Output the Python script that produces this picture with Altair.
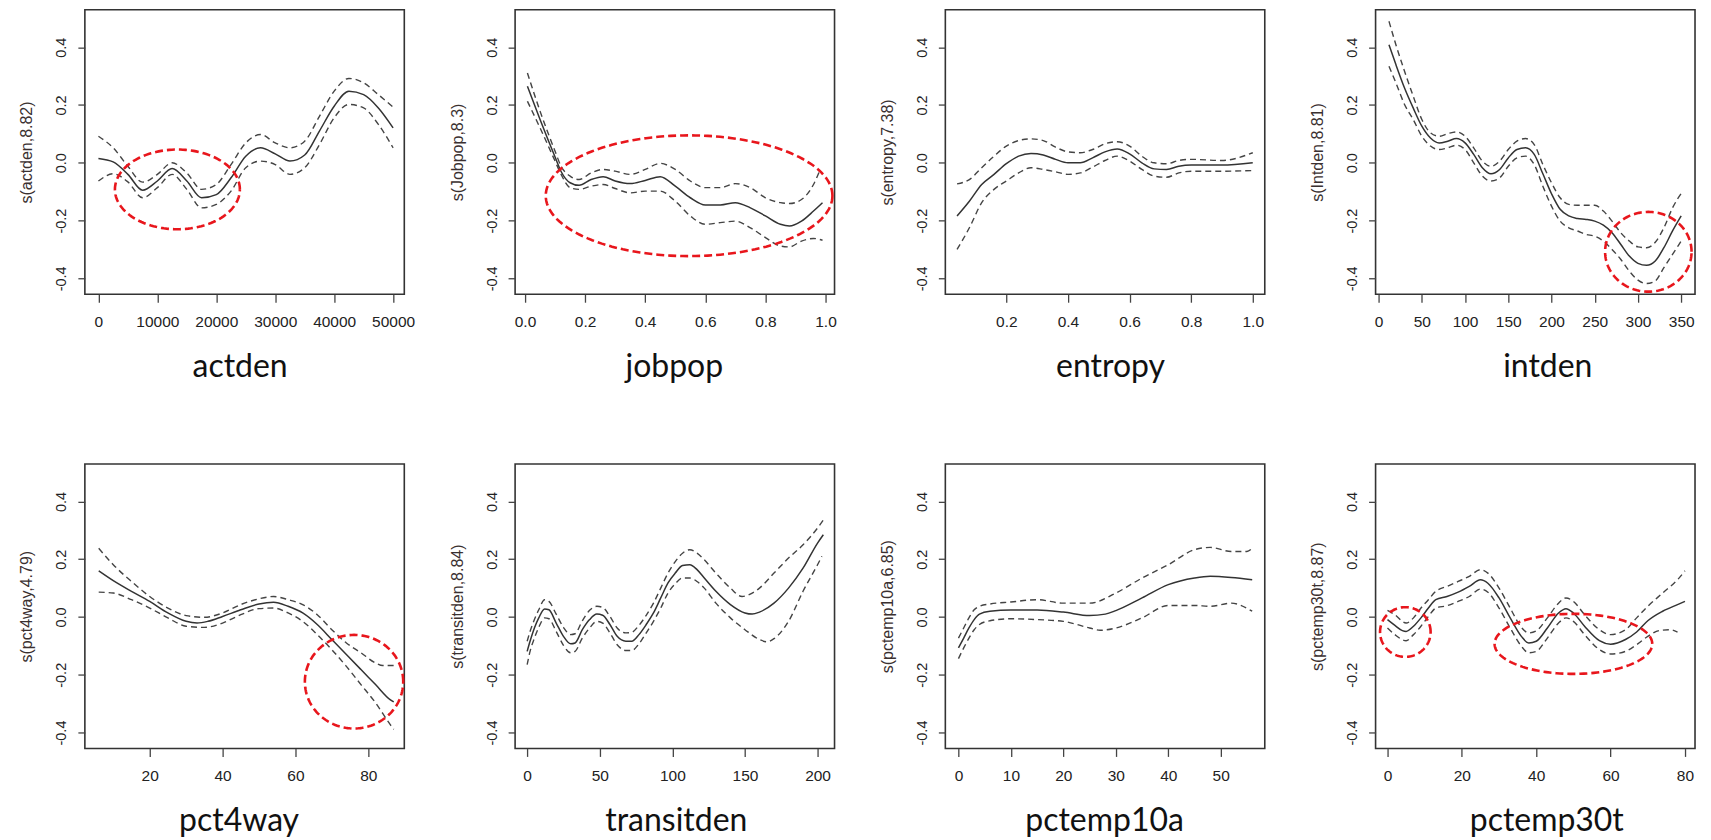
import altair as alt
import numpy as np
import pandas as pd

# ---------------- data ----------------
actden_x = [0, 2500, 5000, 7500, 10000, 12500, 15000, 17500, 20000, 22500, 25000,
            27500, 30000, 32500, 35000, 37500, 40000, 42500, 45000, 47500, 50000]
actden_fit = [0.015, 0.003, -0.040, -0.095, -0.063, -0.020, -0.063, -0.121, -0.110, -0.052, 0.023,
              0.052, 0.031, 0.006, 0.027, 0.110, 0.196, 0.248, 0.236, 0.190, 0.121]
actden_up = [0.092, 0.052, -0.012, -0.067, -0.040, 0.0, -0.035, -0.092, -0.075, -0.006, 0.069,
             0.098, 0.069, 0.052, 0.075, 0.161, 0.248, 0.292, 0.277, 0.236, 0.193]
actden_lo = [-0.063, -0.038, -0.066, -0.121, -0.086, -0.040, -0.092, -0.156, -0.144, -0.098, -0.017,
             0.006, -0.006, -0.040, -0.017, 0.063, 0.156, 0.202, 0.190, 0.133, 0.052]

jobpop_fit_x = [0.008, 0.05, 0.1, 0.12, 0.15, 0.18, 0.22, 0.26, 0.3, 0.35, 0.4, 0.45,
                0.5, 0.55, 0.6, 0.65, 0.7, 0.75, 0.8, 0.85, 0.88, 0.92, 0.96, 0.99]
jobpop_fit = [0.265, 0.150, 0.020, -0.030, -0.069, -0.078, -0.058, -0.048, -0.063, -0.072, -0.061, -0.048,
              -0.081, -0.121, -0.146, -0.146, -0.138, -0.156, -0.184, -0.213, -0.219, -0.202, -0.167, -0.138]
jobpop_up_x = [0.008, 0.05, 0.1, 0.12, 0.15, 0.18, 0.22, 0.26, 0.3, 0.35, 0.4, 0.45,
               0.5, 0.55, 0.6, 0.65, 0.7, 0.75, 0.8, 0.85, 0.88, 0.92, 0.96, 0.98]
jobpop_up = [0.311, 0.179, 0.040, -0.012, -0.046, -0.058, -0.035, -0.023, -0.029, -0.040, -0.023, -0.002,
             -0.023, -0.063, -0.086, -0.086, -0.072, -0.086, -0.121, -0.138, -0.141, -0.127, -0.075, -0.029]
jobpop_lo_x = jobpop_fit_x
jobpop_lo = [0.213, 0.121, 0.006, -0.040, -0.086, -0.092, -0.081, -0.075, -0.089, -0.104, -0.098, -0.098,
             -0.133, -0.184, -0.213, -0.207, -0.202, -0.225, -0.259, -0.288, -0.291, -0.271, -0.262, -0.268]

entropy_x = [0.04, 0.08, 0.12, 0.16, 0.2, 0.24, 0.28, 0.32, 0.36, 0.4, 0.44,
             0.48, 0.52, 0.56, 0.6, 0.64, 0.68, 0.72, 0.76, 0.8, 0.9, 1.0]
entropy_fit = [-0.184, -0.133, -0.075, -0.040, -0.003, 0.023, 0.032, 0.027, 0.012, 0.0, 0.0,
               0.017, 0.038, 0.048, 0.031, 0.0, -0.021, -0.023, -0.012, -0.008, -0.008, 0.0]
entropy_up = [-0.073, -0.058, -0.017, 0.023, 0.058, 0.077, 0.083, 0.077, 0.054, 0.038, 0.035,
              0.046, 0.066, 0.073, 0.058, 0.023, 0.0, -0.003, 0.008, 0.012, 0.008, 0.035]
entropy_lo = [-0.300, -0.225, -0.138, -0.092, -0.063, -0.035, -0.017, -0.023, -0.031, -0.040, -0.035,
              -0.015, 0.008, 0.023, 0.006, -0.023, -0.046, -0.050, -0.035, -0.029, -0.029, -0.027]

intden_fit_x = [12, 20, 30, 40, 50, 60, 70, 80, 90, 100, 110, 120, 130, 140, 150, 160, 170, 180,
                190, 200, 210, 220, 230, 240, 250, 260, 270, 280, 290, 300, 310, 320, 330, 340, 350]
intden_fit = [0.409, 0.340, 0.259, 0.190, 0.127, 0.086, 0.069, 0.075, 0.084, 0.069, 0.029, -0.017,
              -0.038, -0.023, 0.017, 0.046, 0.052, 0.029, -0.038, -0.107, -0.161, -0.184, -0.193,
              -0.196, -0.202, -0.216, -0.242, -0.282, -0.323, -0.348, -0.355, -0.340, -0.294, -0.236, -0.184]
intden_up_x = [12, 20, 30, 40, 50, 60, 70, 80, 90, 100, 110, 120, 130, 140, 150, 160, 170, 180,
               190, 200, 210, 220, 230, 240, 250, 260, 270, 280, 290, 300, 310, 320, 330, 340, 352]
intden_up = [0.490, 0.409, 0.317, 0.231, 0.150, 0.104, 0.092, 0.101, 0.107, 0.092, 0.052, 0.006,
             -0.012, 0.006, 0.046, 0.075, 0.084, 0.063, -0.006, -0.069, -0.121, -0.144, -0.147,
             -0.147, -0.147, -0.167, -0.202, -0.242, -0.271, -0.291, -0.294, -0.275, -0.225, -0.156, -0.098]
intden_lo_x = intden_fit_x
intden_lo = [0.334, 0.277, 0.202, 0.150, 0.092, 0.058, 0.046, 0.052, 0.061, 0.046, 0.0, -0.046,
             -0.063, -0.052, -0.012, 0.017, 0.023, -0.006, -0.081, -0.150, -0.202, -0.225, -0.236,
             -0.248, -0.254, -0.271, -0.300, -0.334, -0.375, -0.406, -0.418, -0.409, -0.363, -0.317, -0.271]

pct4way_fit_x = [6, 10, 15, 20, 25, 30, 33, 36, 40, 45, 50, 54, 58, 62, 66, 70, 74, 78, 82, 86, 87]
pct4way_fit = [0.160, 0.126, 0.089, 0.054, 0.014, -0.015, -0.021, -0.015, 0.002, 0.025, 0.045,
               0.051, 0.037, 0.014, -0.026, -0.078, -0.130, -0.182, -0.234, -0.286, -0.294]
pct4way_up_x = [6, 10, 15, 20, 25, 30, 35, 40, 45, 50, 54, 58, 62, 66, 70, 74, 78, 82, 84, 87]
pct4way_up = [0.238, 0.181, 0.123, 0.071, 0.031, 0.005, -0.001, 0.014, 0.043, 0.063,
              0.071, 0.060, 0.043, 0.008, -0.044, -0.090, -0.124, -0.159, -0.168, -0.168]
pct4way_lo_x = [6, 10, 15, 20, 25, 30, 35, 40, 45, 50, 54, 58, 62, 66, 70, 74, 78, 82, 86, 87]
pct4way_lo = [0.086, 0.083, 0.060, 0.031, -0.003, -0.032, -0.036, -0.021, 0.008, 0.029,
              0.031, 0.014, -0.015, -0.061, -0.113, -0.171, -0.234, -0.297, -0.372, -0.389]

transitden_fit_x = [0, 2, 5, 8, 12, 15, 20, 25, 30, 33, 38, 43, 48, 52, 57, 62, 68, 72, 77, 82,
                    87, 92, 97, 102, 107, 112, 117, 122, 130, 140, 150, 155, 160, 170, 180, 190, 200, 204]
transitden_fit = [-0.119, -0.084, -0.038, -0.003, 0.028, 0.025, -0.021, -0.067, -0.093, -0.090,
                  -0.044, -0.009, 0.010, 0.006, -0.026, -0.067, -0.084, -0.084, -0.061, -0.026,
                  0.014, 0.066, 0.118, 0.152, 0.178, 0.181, 0.164, 0.135, 0.089, 0.043,
                  0.014, 0.010, 0.017, 0.048, 0.100, 0.169, 0.256, 0.285]
transitden_up_x = [0, 2, 5, 8, 12, 15, 20, 25, 30, 33, 38, 43, 48, 52, 57, 62, 68, 72, 77, 82,
                   87, 92, 97, 102, 107, 112, 117, 122, 130, 140, 148, 155, 160, 170, 180, 190, 200, 204]
transitden_up = [-0.084, -0.050, -0.009, 0.025, 0.060, 0.054, 0.010, -0.036, -0.061, -0.058,
                 -0.013, 0.023, 0.037, 0.033, 0.002, -0.038, -0.055, -0.053, -0.029, 0.006,
                 0.048, 0.100, 0.152, 0.192, 0.221, 0.233, 0.221, 0.198, 0.152, 0.100,
                 0.071, 0.083, 0.100, 0.152, 0.204, 0.250, 0.308, 0.336]
transitden_lo_x = [0, 2, 5, 8, 12, 15, 20, 25, 30, 33, 38, 43, 48, 52, 57, 62, 68, 72, 77, 82,
                   87, 92, 97, 102, 107, 112, 117, 122, 130, 140, 150, 160, 165, 170, 180, 190, 200, 203]
transitden_lo = [-0.165, -0.119, -0.073, -0.036, -0.003, -0.006, -0.050, -0.098, -0.124, -0.119,
                 -0.073, -0.038, -0.015, -0.021, -0.055, -0.096, -0.116, -0.116, -0.093, -0.055,
                 -0.015, 0.031, 0.083, 0.115, 0.135, 0.135, 0.123, 0.100, 0.048, -0.003,
                 -0.044, -0.078, -0.086, -0.075, -0.015, 0.089, 0.181, 0.210]

pctemp10a_fit_x = [0, 1, 2, 3, 4, 6, 10, 15, 20, 25, 28, 30, 35, 40, 45, 48, 52, 56]
pctemp10a_fit = [-0.107, -0.073, -0.038, -0.009, 0.010, 0.020, 0.024, 0.024, 0.017,
                 0.005, 0.010, 0.022, 0.066, 0.112, 0.135, 0.141, 0.137, 0.129]
pctemp10a_up_x = [0, 1, 2, 3, 4, 6, 10, 15, 20, 25, 30, 35, 40, 45, 48, 52, 55, 56]
pctemp10a_up = [-0.073, -0.038, -0.003, 0.025, 0.037, 0.045, 0.052, 0.060, 0.048,
                0.048, 0.083, 0.135, 0.181, 0.233, 0.241, 0.227, 0.227, 0.238]
pctemp10a_lo_x = [0, 1, 2, 3, 4, 6, 10, 15, 20, 25, 27, 30, 35, 40, 45, 48, 52, 56]
pctemp10a_lo = [-0.144, -0.107, -0.073, -0.044, -0.026, -0.013, -0.006, -0.009, -0.015,
                -0.038, -0.046, -0.038, -0.003, 0.040, 0.040, 0.037, 0.048, 0.020]

pctemp30t_fit_x = [0, 2, 4, 5, 7, 9, 11, 13, 16, 19, 22, 25, 27, 30, 33, 36, 38, 40, 43, 46,
                   48, 50, 53, 57, 60, 64, 67, 70, 74, 78, 80]
pctemp30t_fit = [-0.009, -0.029, -0.047, -0.050, -0.032, -0.003, 0.031, 0.060, 0.071, 0.086,
                 0.106, 0.129, 0.117, 0.066, -0.003, -0.067, -0.090, -0.084, -0.038, 0.014,
                 0.029, 0.014, -0.032, -0.082, -0.094, -0.078, -0.052, -0.013, 0.020, 0.043, 0.054]
pctemp30t_up_x = [0, 2, 5, 7, 9, 11, 13, 16, 19, 22, 25, 27, 30, 33, 36, 38, 40, 43, 46, 48,
                  50, 53, 57, 60, 64, 67, 70, 74, 78, 80]
pctemp30t_up = [0.023, 0.008, -0.021, -0.003, 0.031, 0.060, 0.089, 0.106, 0.123, 0.141,
                0.164, 0.152, 0.100, 0.031, -0.036, -0.055, -0.048, -0.003, 0.048, 0.066,
                0.054, 0.008, -0.044, -0.061, -0.044, -0.003, 0.037, 0.083, 0.129, 0.160]
pctemp30t_lo_x = [0, 2, 5, 7, 9, 11, 13, 16, 19, 22, 25, 27, 30, 33, 36, 38, 40, 43, 46, 48,
                  50, 53, 57, 60, 64, 67, 70, 73, 76, 78]
pctemp30t_lo = [-0.038, -0.061, -0.082, -0.061, -0.032, 0.002, 0.031, 0.039, 0.054, 0.071,
                0.097, 0.086, 0.031, -0.038, -0.101, -0.124, -0.119, -0.073, -0.021, -0.003,
                -0.015, -0.061, -0.113, -0.128, -0.119, -0.096, -0.067, -0.047, -0.044, -0.052]

# red dashed ellipses (center x, center y, radius x, radius y) in data units
actden_ell = [(13400, -0.092, 10600, 0.138)]
jobpop_ell = [(0.546, -0.114, 0.477, 0.209)]
intden_ell = [(312, -0.308, 50, 0.138)]
pct4way_ell = [(76.1, -0.224, 13.5, 0.162)]
pctemp30t_ell = [(4.8, -0.052, 6.8, 0.086), (50.0, -0.093, 21.2, 0.104)]

y_ticks = [-0.4, -0.2, 0.0, 0.2, 0.4]
y_domain = [-0.455, 0.53]

panels = [
    dict(name="actden", ytitle="s(actden,8.82)", dom=[-2300, 51900],
         ticks=[0, 10000, 20000, 30000, 40000, 50000], fmt="d", tx=155,
         fit=(actden_x, actden_fit), up=(actden_x, actden_up), lo=(actden_x, actden_lo), ell=actden_ell),
    dict(name="jobpop", ytitle="s(Jobpop,8.3)", dom=[-0.033, 1.03],
         ticks=[0.0, 0.2, 0.4, 0.6, 0.8, 1.0], fmt=".1f", tx=159,
         fit=(jobpop_fit_x, jobpop_fit), up=(jobpop_up_x, jobpop_up), lo=(jobpop_lo_x, jobpop_lo), ell=jobpop_ell),
    dict(name="entropy", ytitle="s(entropy,7.38)", dom=[0.002, 1.039],
         ticks=[0.2, 0.4, 0.6, 0.8, 1.0], fmt=".1f", tx=165,
         fit=(entropy_x, entropy_fit), up=(entropy_x, entropy_up), lo=(entropy_x, entropy_lo), ell=[]),
    dict(name="intden", ytitle="s(Intden,8.81)", dom=[-3.5, 366],
         ticks=[0, 50, 100, 150, 200, 250, 300, 350], fmt="d", tx=172,
         fit=(intden_fit_x, intden_fit), up=(intden_up_x, intden_up), lo=(intden_lo_x, intden_lo), ell=intden_ell),
    dict(name="pct4way", ytitle="s(pct4way,4.79)", dom=[2.2, 89.9],
         ticks=[20, 40, 60, 80], fmt="d", tx=154,
         fit=(pct4way_fit_x, pct4way_fit), up=(pct4way_up_x, pct4way_up), lo=(pct4way_lo_x, pct4way_lo), ell=pct4way_ell),
    dict(name="transitden", ytitle="s(transitden,8.84)", dom=[-8.3, 211.7],
         ticks=[0, 50, 100, 150, 200], fmt="d", tx=161,
         fit=(transitden_fit_x, transitden_fit), up=(transitden_up_x, transitden_up),
         lo=(transitden_lo_x, transitden_lo), ell=[]),
    dict(name="pctemp10a", ytitle="s(pctemp10a,6.85)", dom=[-2.5, 58.4],
         ticks=[0, 10, 20, 30, 40, 50], fmt="d", tx=159,
         fit=(pctemp10a_fit_x, pctemp10a_fit), up=(pctemp10a_up_x, pctemp10a_up),
         lo=(pctemp10a_lo_x, pctemp10a_lo), ell=[]),
    dict(name="pctemp30t", ytitle="s(pctemp30t,8.87)", dom=[-3.2, 82.7],
         ticks=[0, 20, 40, 60, 80], fmt="d", tx=171,
         fit=(pctemp30t_fit_x, pctemp30t_fit), up=(pctemp30t_up_x, pctemp30t_up),
         lo=(pctemp30t_lo_x, pctemp30t_lo), ell=pctemp30t_ell),
]

W, H = 320, 285
TICK_FONT = "Liberation Sans"
ang = np.linspace(0, 2 * np.pi, 145)


def make_panel(p):
    rows = []
    for curve in ("fit", "up", "lo"):
        xs, ys = p[curve]
        for i, (xv, yv) in enumerate(zip(xs, ys)):
            rows.append({"x": xv, "y": yv, "curve": curve, "o": i})
    for k, (cx, cy, rx, ry) in enumerate(p["ell"]):
        for i, a in enumerate(ang):
            rows.append({"x": cx + rx * np.cos(a), "y": cy + ry * np.sin(a), "curve": f"ell{k}", "o": i})
    df = pd.DataFrame(rows)

    x_enc = alt.X(
        "x:Q",
        scale=alt.Scale(domain=p["dom"], nice=False, zero=False),
        axis=alt.Axis(
            values=p["ticks"], format=p["fmt"], domain=False, grid=False,
            tickSize=8, tickWidth=1.3, tickColor="#444",
            labelFont=TICK_FONT, labelFontSize=15.5, labelColor="#222",
            labelPadding=12, labelFlush=False, labelOverlap=False,
            title=p["name"], titleFont="Lato", titleFontSize=32, titleFontWeight="normal",
            titleColor="#111", titleX=p["tx"], titleY=82, titleAlign="center",
            titleBaseline="alphabetic",
        ),
    )
    y_enc = alt.Y(
        "y:Q",
        scale=alt.Scale(domain=y_domain, nice=False, zero=False),
        axis=alt.Axis(
            values=y_ticks,
            labelExpr="datum.value < 0 ? '-' + format(-datum.value, '.1f') : format(datum.value, '.1f')",
            domain=False, grid=False,
            tickSize=7, tickWidth=1.3, tickColor="#444",
            labelFont=TICK_FONT, labelFontSize=14.5, labelColor="#222",
            labelAngle=270, labelAlign="center", labelBaseline="bottom", labelPadding=9,
            title=p["ytitle"], titleFont=TICK_FONT, titleFontSize=16, titleFontWeight="normal",
            titleColor="#3a3030", titleAngle=270, titleX=-58, titleY=H / 2,
            titleAlign="center", titleBaseline="middle",
        ),
    )
    base = alt.Chart(df).encode(x=x_enc, y=y_enc, order="o:Q")
    fit = base.transform_filter(alt.datum.curve == "fit").mark_line(
        color="#333", strokeWidth=1.5, interpolate="monotone")
    band = base.transform_filter((alt.datum.curve == "up") | (alt.datum.curve == "lo")).mark_line(
        color="#444", strokeWidth=1.4, strokeDash=[6, 4], interpolate="monotone"
    ).encode(detail="curve:N")
    layers = [band, fit]
    if p["ell"]:
        ell = base.transform_filter(alt.FieldOneOfPredicate(field="curve", oneOf=["ell0", "ell1"])).mark_line(
            color="#e8161c", strokeWidth=2.6, strokeDash=[8, 4]
        ).encode(detail="curve:N")
        layers.append(ell)
    return alt.layer(*layers).properties(width=W, height=H)


charts = [make_panel(p) for p in panels]

chart = alt.concat(
    *charts, columns=4, spacing={"row": 170, "column": 111}, bounds="flush"
).properties(
    padding={"left": 10, "top": 0, "right": 5, "bottom": 0},
    background="white",
).configure_view(
    stroke="#333", strokeWidth=1.6
)

chart.save("out.html", embed_options={"renderer": "svg", "actions": False})
